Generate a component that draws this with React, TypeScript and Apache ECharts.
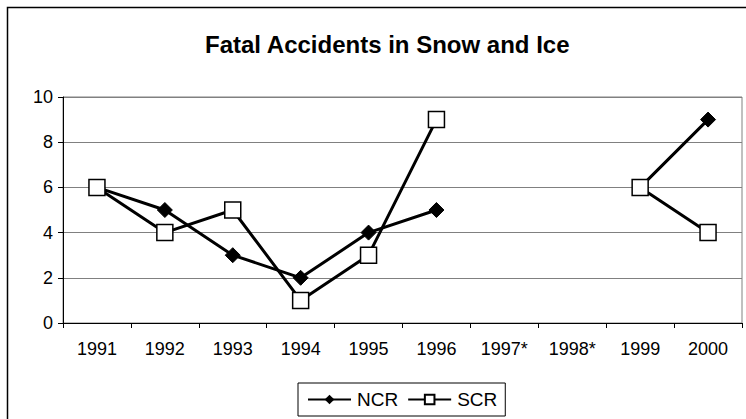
import React, { useEffect, useRef } from "react";
import * as echarts from "echarts";

const categories = ["1991", "1992", "1993", "1994", "1995", "1996", "1997*", "1998*", "1999", "2000"];
const ncr = [6, 5, 3, 2, 4, 5, null, null, 6, 9];
const scr = [6, 4, 5, 1, 3, 9, null, null, 6, 4];
const yTicks = [0, 2, 4, 6, 8, 10];

const FONT = "Arial, 'Liberation Sans', sans-serif";

export default function App() {
  const ref = useRef<HTMLDivElement>(null);
  useEffect(() => {
    if (!ref.current) return;
    const chart = echarts.init(ref.current, null, { renderer: "svg" });
    chart.setOption({
      animation: false,
      backgroundColor: "#ffffff",
      title: {
        text: "Fatal Accidents in Snow and Ice",
        left: 200,
        top: 27,
        textStyle: { fontFamily: FONT, fontSize: 24, fontWeight: "bold", color: "#000" },
      },
      graphic: [
        {
          type: "rect",
          shape: { x: 7.5, y: 7.5, width: 780, height: 440 },
          style: { fill: "none", stroke: "#000", lineWidth: 1.5 },
          silent: true,
          z: 100,
        },
      ],
      legend: {
        left: 298,
        top: 383,
        padding: [7, 8, 7, 9],
        itemWidth: 43,
        itemHeight: 12,
        itemGap: 9,
        borderColor: "#000",
        borderWidth: 1,
        textStyle: { fontFamily: FONT, fontSize: 19, color: "#000", padding: [0, 0, 0, 1] },
        data: ["NCR", "SCR"],
      },
      grid: {
        left: 63,
        top: 97,
        right: 4,
        bottom: 96,
        show: true,
        borderColor: "#808080",
        borderWidth: 1,
      },
      xAxis: {
        type: "category",
        data: categories,
        boundaryGap: true,
        axisLine: { lineStyle: { color: "#000", width: 1 } },
        axisTick: { show: true, length: 5, inside: false, lineStyle: { color: "#000" } },
        axisLabel: { fontFamily: FONT, fontSize: 18, color: "#000", margin: 17 },
        splitLine: { show: false },
      },
      yAxis: {
        type: "value",
        min: yTicks[0],
        max: yTicks[yTicks.length - 1],
        interval: 2,
        axisLine: { show: true, lineStyle: { color: "#000", width: 1 } },
        axisTick: { show: true, length: 5, lineStyle: { color: "#000" } },
        axisLabel: { fontFamily: FONT, fontSize: 18, color: "#000", margin: 10 },
        splitLine: { show: true, lineStyle: { color: "#808080", width: 1 } },
      },
      series: [
        {
          name: "NCR",
          type: "line",
          data: ncr,
          connectNulls: false,
          symbol: "diamond",
          symbolSize: 15,
          lineStyle: { color: "#000", width: 3 },
          itemStyle: { color: "#000", borderColor: "#000" },
          z: 3,
        },
        {
          name: "SCR",
          type: "line",
          data: scr,
          connectNulls: false,
          symbol: "rect",
          symbolSize: 16,
          lineStyle: { color: "#000", width: 3 },
          itemStyle: { color: "#fff", borderColor: "#000", borderWidth: 1.5 },
          z: 4,
        },
      ],
    });
    return () => chart.dispose();
  }, []);
  return (
    <div
      ref={ref}
      style={{ position: "absolute", left: 0, top: 0, width: 746, height: 419 }}
    />
  );
}
